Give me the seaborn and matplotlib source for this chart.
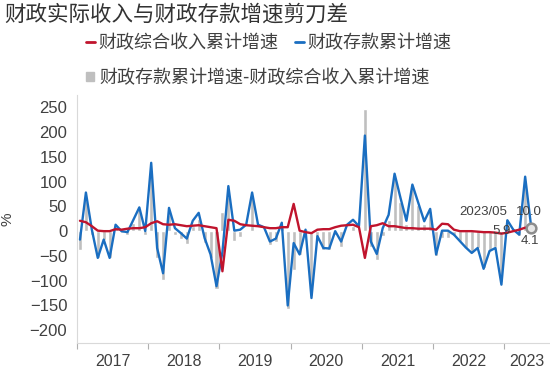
import numpy as np
import pandas as pd
import matplotlib
matplotlib.use('Agg')
import matplotlib.pyplot as plt
import seaborn as sns
from matplotlib.lines import Line2D
from matplotlib.patches import Patch

# monthly data, 2017/01 - 2023/05
months = pd.period_range('2017-01', '2023-05', freq='M')

# 财政存款累计增速 (%)
deposit = [-17, 78, 3, -54, -17, -54, 13, 0, -2, 23, 48, 0,
           138, -34, -85, 47, 6, -4, -15, 21, 37, -14, -47, -111,
           -42, 91, 1, 3, 13, 78, 13, 8, -21, -15, 17, -150,
           -24, -47, 3, -135, -10, -34, -35, 0, -21, 13, 23, 10,
           193, -21, -46, 6, 33, 116, 67, 21, 94, 57, 20, 45,
           -47, 1, 1, -7, -20, -33, -44, -34, -76, -40, -34, -108,
           22, 3, -7, 110, 10.0]

# 财政综合收入累计增速 (%)
revenue = [21, 18, 10, 1, 0, 0, 4, 3, 5, 6, 6, 8,
           16, 20, 14, 13, 14, 12, 10, 11, 12, 10, 8, 6,
           -81, 23, 21, 14, 12, 11, 10, 8, 6, 6, 8, 8,
           55, 1, -2, -4, 3, 4, 4, 8, 11, 12, 13, 8,
           -54, 10, 12, 16, 10, 10, 8, 6, 6, 5, 5, 5,
           3, 15, 14, 3, 0, 0, 0, -1, -2, -2, -3, -5,
           -3, 0, 3, 7, 4.1]

years = ['2017', '2018', '2019', '2020', '2021', '2022', '2023']

df = pd.DataFrame({'idx': np.arange(len(months)),
                   'deposit': deposit,
                   'revenue': revenue})
df['gap'] = df['deposit'] - df['revenue']

RED = '#c0142d'
BLUE = '#1a6ec1'
GREY = '#bfbfbf'
TXT = '#404040'
cjk = ['Noto Sans CJK SC', 'DejaVu Sans']

sns.set_theme(style='white')
plt.rcParams['font.family'] = ['Liberation Sans', 'DejaVu Sans']

fig = plt.figure(figsize=(5.5, 3.68), dpi=100)
ax = fig.add_axes([0.14, 0.069, 0.858, 0.673])

ax.bar(df['idx'], df['gap'], width=0.68, color=GREY, zorder=1)
sns.lineplot(data=df, x='idx', y='deposit', color=BLUE, lw=1.7, ax=ax, zorder=2)
sns.lineplot(data=df, x='idx', y='revenue', color=RED, lw=1.7, ax=ax, zorder=3)

# last point highlight + labels
last = df.iloc[-1]
ax.plot(last['idx'], 7, marker='o', ms=7, mfc='#e6e6e6', mec='#8c8c8c', mew=1.8, zorder=5)
ax.text(last['idx'] - 8, 38, '2023/05', fontsize=9.5, color=TXT, ha='center', va='center', zorder=6)
ax.text(last['idx'] - 0.3, 38, f"{last['deposit']:.1f}", fontsize=9.5, color=TXT, ha='center', va='center', zorder=6)
ax.text(last['idx'] - 5, 0, f"{last['gap']:.1f}", fontsize=9.5, color=TXT, ha='center', va='center', zorder=6)
ax.text(last['idx'] - 0.2, -19, f"{last['revenue']:.1f}", fontsize=9.5, color=TXT, ha='center', va='center', zorder=6)

ax.set_xlim(-0.5, 79)
ax.set_ylim(-225, 275)
ax.set_yticks(np.arange(-200, 251, 50))
ax.tick_params(axis='y', labelsize=12, colors=TXT, length=3, width=0.8, color='#d0d0d0', pad=4)

ax.set_xticks(np.arange(len(years)) * 12 - 0.5, minor=True)
centers = [5.5 + 12 * k for k in range(len(years) - 1)] + [(71.5 + 79) / 2]
ax.set_xticks(centers)
ax.set_xticklabels(years)
ax.tick_params(axis='x', which='major', length=0, labelsize=11.5, colors=TXT, pad=8)
ax.tick_params(axis='x', which='minor', length=4, width=0.8, color='#b0b0b0', bottom=True)

for s in ['top', 'right']:
    ax.spines[s].set_visible(False)
for s in ['left', 'bottom']:
    ax.spines[s].set_color('#d9d9d9')
    ax.spines[s].set_linewidth(0.8)

ax.set_xlabel('')
ax.set_ylabel('%', fontsize=11, color=TXT, labelpad=11)

fig.text(4 / 550, 1 - 15 / 368, '财政实际收入与财政存款增速剪刀差', ha='left', va='center',
         fontsize=15.5, color='#333333', family=cjk)

prop = {'family': cjk, 'size': 13}
leg1 = fig.legend(handles=[Line2D([], [], color=RED, lw=2), Line2D([], [], color=BLUE, lw=2)],
                  labels=['财政综合收入累计增速', '财政存款累计增速'],
                  loc='center left', bbox_to_anchor=(86 / 550, 1 - 43 / 368), ncol=2,
                  frameon=False, handlelength=0.5, handletextpad=0.2, columnspacing=0.9,
                  borderpad=0, borderaxespad=0, prop=prop, labelcolor=TXT)
leg2 = fig.legend(handles=[Patch(color=GREY)],
                  labels=['财政存款累计增速-财政综合收入累计增速'],
                  loc='center left', bbox_to_anchor=(86 / 550, 1 - 78 / 368),
                  frameon=False, handlelength=0.45, handleheight=0.45, handletextpad=0.3,
                  borderpad=0, borderaxespad=0, prop=prop, labelcolor=TXT)

fig.savefig('out.png', dpi=100)
